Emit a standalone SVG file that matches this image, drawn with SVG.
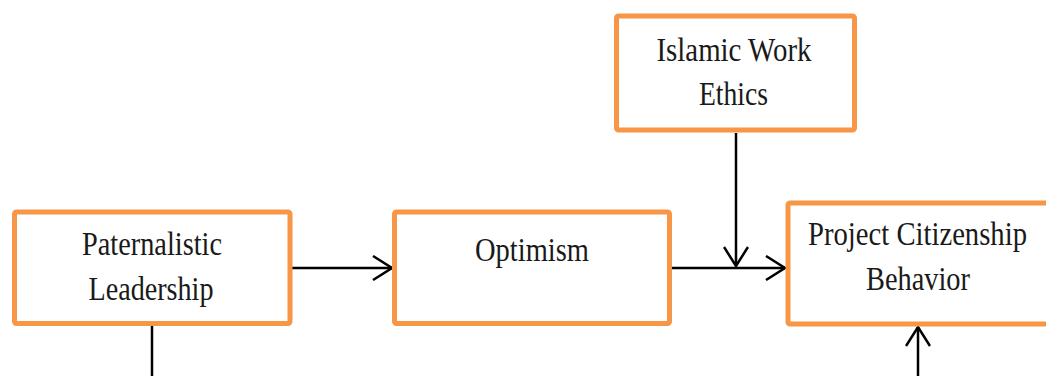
<svg xmlns="http://www.w3.org/2000/svg" width="1046" height="376" viewBox="0 0 1046 376">
  <defs>
    <style>
      .box { fill: #ffffff; stroke: #F79646; stroke-width: 5; }
      .lbl { font-family: "Liberation Serif", "Times New Roman", serif; font-size: 33px; fill: #1a1a1a; text-anchor: middle; }
      .conn { fill: none; stroke: #000000; stroke-width: 2.5; }
    </style>
    <marker id="arr" markerUnits="userSpaceOnUse" viewBox="-20 -13 22 26" markerWidth="22" markerHeight="26" refX="0" refY="0" orient="auto">
      <path d="M-19,-12 L0,0 L-19,12" fill="none" stroke="#000" stroke-width="2.5"/>
    </marker>
  </defs>
  <rect width="1046" height="376" fill="#ffffff"/>

  <g id="connectors">
    <line class="conn" x1="292" y1="268" x2="392" y2="268" marker-end="url(#arr)"/>
    <line class="conn" x1="672" y1="268" x2="785" y2="268" marker-end="url(#arr)"/>
    <line class="conn" x1="736" y1="133" x2="736" y2="266" marker-end="url(#arr)"/>
    <line class="conn" x1="918" y1="376" x2="918" y2="327" marker-end="url(#arr)"/>
    <line class="conn" x1="152" y1="326" x2="152" y2="376"/>
  </g>

  <g id="paternalistic">
    <rect class="box" x="14.5" y="212" width="275.5" height="111.5" rx="2"/>
    <text class="lbl" x="152" y="255" textLength="140" lengthAdjust="spacingAndGlyphs">Paternalistic</text>
    <text class="lbl" x="151" y="300" textLength="125" lengthAdjust="spacingAndGlyphs">Leadership</text>
  </g>

  <g id="optimism">
    <rect class="box" x="394.5" y="212" width="275" height="111.5" rx="2"/>
    <text class="lbl" x="532" y="261" textLength="114" lengthAdjust="spacingAndGlyphs">Optimism</text>
  </g>

  <g id="islamic">
    <rect class="box" x="616.5" y="16" width="238" height="114" rx="2"/>
    <text class="lbl" x="734" y="61" textLength="155" lengthAdjust="spacingAndGlyphs">Islamic Work</text>
    <text class="lbl" x="733.5" y="105" textLength="69" lengthAdjust="spacingAndGlyphs">Ethics</text>
  </g>

  <g id="pcb">
    <rect class="box" x="788" y="203" width="275" height="121" rx="2"/>
    <text class="lbl" x="917.5" y="245" textLength="219" lengthAdjust="spacingAndGlyphs">Project Citizenship</text>
    <text class="lbl" x="918" y="290" textLength="104" lengthAdjust="spacingAndGlyphs">Behavior</text>
  </g>
</svg>
